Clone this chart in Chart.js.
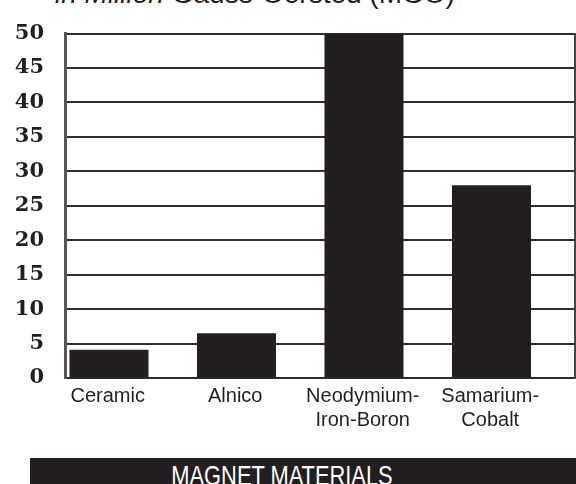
<!DOCTYPE html>
<html>
<head>
<meta charset="utf-8">
<script src="https://cdn.jsdelivr.net/npm/chart.js@4"></script>
<style>
  html, body { margin: 0; padding: 0; background: #fff; }
  body { width: 576px; height: 484px; position: relative; overflow: hidden; }
  #wrap { position: absolute; left: 0; top: 0; width: 576px; height: 456px; }
  .title {
    position: absolute; left: 55px; top: -20px; white-space: nowrap;
    font: 28px/28px "Liberation Sans", Arial, sans-serif; color: #231f20;
  }
  .banner {
    position: absolute; left: 30px; top: 458px; width: 546px; height: 30px;
    background: #231f20;
  }
  .banner span {
    position: absolute; left: 252px; top: 4px; white-space: nowrap;
    font: 28px/28px "Liberation Sans", Arial, sans-serif; color: #fff;
    transform: translateX(-50%) scaleX(0.78);
  }
</style>
</head>
<body>
<div class="title"><i>in Million</i> Gauss-Oersted (MGO)</div>
<div id="wrap"><canvas id="chart" width="576" height="456"></canvas></div>
<div class="banner"><span>MAGNET MATERIALS</span></div>
<script>
const categories = ['Ceramic', 'Alnico', ['Neodymium-', 'Iron-Boron'], ['Samarium-', 'Cobalt']];
const energyProduct = [4.1, 6.5, 50, 28];
const yTicks = { min: 0, max: 50, step: 5 };

const ink = '#231f20';

const ctx = document.getElementById('chart').getContext('2d');
new Chart(ctx, {
  type: 'bar',
  data: {
    labels: categories,
    datasets: [{
      label: 'MGO',
      data: energyProduct,
      backgroundColor: ink,
      borderWidth: 0,
      categoryPercentage: 0.62,
      barPercentage: 2.0
    }, {
      // empty slot so the bars sit left of the category centre, as in the print
      label: '',
      data: categories.map(() => null),
      categoryPercentage: 0.62,
      barPercentage: 2.0
    }]
  },
  options: {
    responsive: false,
    animation: false,
    layout: { padding: { top: 27, left: 0, right: 0, bottom: 0 } },
    plugins: {
      legend: { display: false },
      tooltip: { enabled: false }
    },
    scales: {
      x: {
        grid: { display: false, drawTicks: false },
        border: { display: true, color: '#2a2a2a', width: 2 },
        ticks: {
          color: ink,
          padding: 6,
          labelOffset: -21,
          maxRotation: 0,
          autoSkip: false,
          font: { family: '"Liberation Sans", Arial, sans-serif', size: 20, lineHeight: 1.2 }
        },
        afterFit: (axis) => { axis.height = 78; }
      },
      y: {
        min: yTicks.min,
        max: yTicks.max,
        grid: { color: '#2e2e2e', lineWidth: 2, drawTicks: false },
        border: { display: true, color: '#555', width: 3 },
        ticks: {
          stepSize: yTicks.step,
          color: ink,
          padding: 21,
          font: { family: '"DejaVu Serif", serif', size: 21, weight: 'bold' }
        },
        afterFit: (axis) => { axis.width = 65; }
      },
      yRight: {
        position: 'right',
        min: yTicks.min,
        max: yTicks.max,
        grid: { display: false, drawTicks: false },
        border: { display: true, color: '#444', width: 2 },
        ticks: { display: false },
        afterFit: (axis) => { axis.width = 1; }
      }
    }
  }
});
</script>
</body>
</html>
